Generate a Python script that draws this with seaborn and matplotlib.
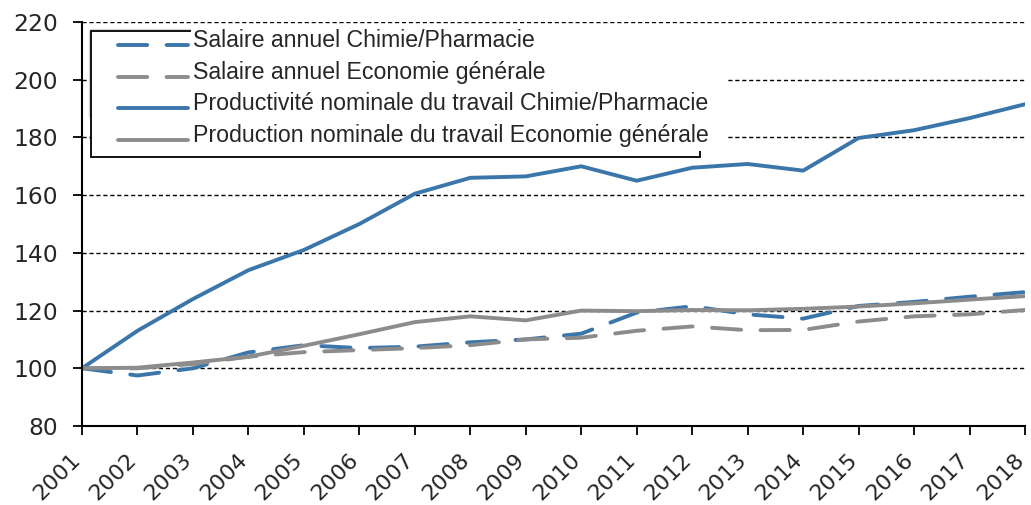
import matplotlib
matplotlib.use("Agg")
import matplotlib.pyplot as plt
import numpy as np
import pandas as pd
import seaborn as sns
from matplotlib.legend_handler import HandlerLine2D
from matplotlib.lines import Line2D
from matplotlib.patches import Rectangle

years = list(range(2001, 2019))
salaire_chimie = [100, 97.5, 100, 105.5, 108, 107, 107.5, 109, 110, 112,
                  119.3, 121.5, 118.7, 117.2, 121.6, 123, 124.8, 126.4]
salaire_eco = [100, 100, 101.5, 104, 105.6, 106.3, 107, 108, 110, 110.6,
               113, 114.5, 113.2, 113.3, 116.2, 118, 118.7, 120.2]
prod_chimie = [100, 113, 124, 134, 141, 150, 160.5, 166, 166.5, 170,
               165, 169.5, 170.8, 168.5, 179.8, 182.5, 186.7, 191.5]
prod_eco = [100, 100.2, 102, 104, 107.8, 111.8, 116, 118, 116.6, 120,
            119.8, 120.2, 120.1, 120.6, 121.4, 122.5, 123.8, 125]

labels = [
    "Salaire annuel Chimie/Pharmacie",
    "Salaire annuel Economie générale",
    "Productivité nominale du travail Chimie/Pharmacie",
    "Production nominale du travail Economie générale",
]
series = [salaire_chimie, salaire_eco, prod_chimie, prod_eco]

blue = "#3B76AB"
grey = "#8C8C8C"
colors = [blue, grey, blue, grey]
styles = [(0, (7.5, 5)), (0, (7.5, 5)), "-", "-"]

W, H = 1031, 505


class LowLine(HandlerLine2D):
    # legend sample sits a bit under the text middle, like the original
    def create_artists(self, legend, orig_handle, xdescent, ydescent,
                       width, height, fontsize, trans):
        artists = super().create_artists(legend, orig_handle, xdescent,
                                         ydescent, width, height, fontsize,
                                         trans)
        for a in artists:
            if isinstance(a, Line2D):
                a.set_ydata(np.asarray(a.get_ydata(), dtype=float) - 4.5)
        return artists


sns.set_style("white")
plt.rcParams["font.family"] = ["DejaVu Sans"]

fig = plt.figure(figsize=(W / 100, H / 100), dpi=100)
ax = fig.add_axes([82 / W, 1 - 426 / H, (1025 - 82) / W, (426 - 22) / H])

for s, lab, c, ls in zip(series, labels, colors, styles):
    df = pd.DataFrame({"year": years, "value": s})
    sns.lineplot(data=df, x="year", y="value", ax=ax, color=c,
                 linestyle=ls, linewidth=2.8, label=lab,
                 dash_capstyle="round", solid_capstyle="round")

ax.set_xlim(2001, 2018)
ax.set_ylim(80, 220)
ax.set_yticks(range(80, 221, 20))
ax.set_xticks(years)
ax.set_xticklabels([str(y) for y in years], rotation=45, ha="right",
                   va="baseline", rotation_mode="anchor", fontsize=16)
ax.tick_params(axis="both", length=6.5, width=1.3, color="black",
               direction="out", bottom=True, left=True)
ax.tick_params(axis="y", labelsize=16.8, pad=11)
ax.tick_params(axis="x", pad=18.5)
ax.set_xlabel("")
ax.set_ylabel("")

for yv in range(100, 221, 20):
    ax.axhline(yv, color="black", linestyle=(0, (3, 2)), linewidth=1, zorder=0)

sns.despine(ax=ax, top=True, right=True)
for sp in ["left", "bottom"]:
    ax.spines[sp].set_color("black")
    ax.spines[sp].set_linewidth(1.5)

# legend frame (figure pixels) with a white text area laid over it
frame = Rectangle((91 / W, 1 - 157 / H), (700 - 91) / W, (157 - 31) / H,
                  transform=fig.transFigure, facecolor="white",
                  edgecolor="black", linewidth=1.3, zorder=4)
text_area = Rectangle((191 / W, 1 - 151 / H), (727 - 191) / W, (151 - 27) / H,
                      transform=fig.transFigure, facecolor="white",
                      edgecolor="none", zorder=4.5)
fig.patches.extend([frame, text_area])

handles, labs = ax.get_legend_handles_labels()
leg = fig.legend(handles, labs, loc="upper left",
                 bbox_to_anchor=(118 / W, 1 - 29 / H),
                 bbox_transform=fig.transFigure, borderaxespad=0,
                 prop={"family": "Liberation Sans", "size": 16.7},
                 frameon=False, handlelength=3.0, labelspacing=0.37,
                 borderpad=0, handletextpad=0.24,
                 handler_map={h: LowLine() for h in handles})
leg.set_zorder(6)

fig.savefig("out.png", dpi=100)
